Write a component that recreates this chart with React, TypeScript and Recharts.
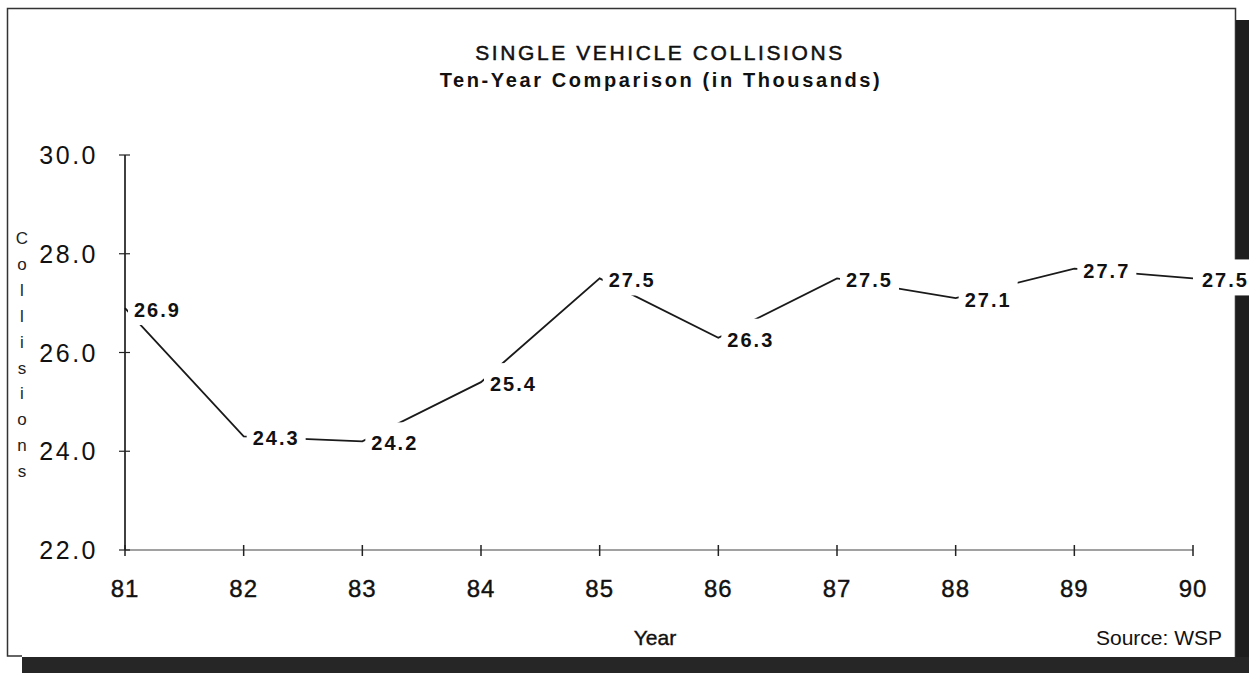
import { LineChart, Line, XAxis, YAxis, LabelList } from 'recharts';

// Single vehicle collisions, in thousands (WSP)
const years = [81, 82, 83, 84, 85, 86, 87, 88, 89, 90];
const collisions = [26.9, 24.3, 24.2, 25.4, 27.5, 26.3, 27.5, 27.1, 27.7, 27.5];
const yTicks = [22, 24, 26, 28, 30];
const yLabelLetters = ['C', 'o', 'l', 'l', 'i', 's', 'i', 'o', 'n', 's'];

const FONT = '"Liberation Sans", Arial, Helvetica, sans-serif';
const W = 1249;
const H = 673;

const chartData = years.map((year, i) => ({ year, value: collisions[i] }));

// y tick: crossing tick mark + label to the left
const YTick = (props: any) => {
  const { x, y, payload } = props;
  return (
    <g>
      <line x1={x - 6} x2={x + 5} y1={y} y2={y} stroke="#222" strokeWidth={1.2} />
      <text
        x={x - 27}
        y={y + 9}
        textAnchor="end"
        fontFamily={FONT}
        fontSize={25}
        letterSpacing={2.5}
        fill="#111"
      >
        {Number(payload.value).toFixed(1)}
      </text>
    </g>
  );
};

// x tick: short vertical mark through the axis + year below
const XTick = (props: any) => {
  const { x, y, payload } = props;
  return (
    <g>
      <line x1={x} x2={x} y1={y - 5} y2={y + 6} stroke="#222" strokeWidth={1.5} />
      <text
        x={x}
        y={y + 47}
        textAnchor="middle"
        fontFamily={FONT}
        fontSize={24}
        letterSpacing={1}
        fill="#111"
        stroke="#111"
        strokeWidth={0.4}
      >
        {payload.value}
      </text>
    </g>
  );
};

// value label on a white patch, which breaks the line around it
const ValueLabel = (props: any) => {
  const { x, y, value } = props;
  if (x == null || y == null) return null;
  return (
    <g>
      <rect x={x + 3} y={y - 19} width={59} height={36} fill="#fff" />
      <text
        x={x + 9}
        y={y + 9}
        fontFamily={FONT}
        fontSize={20}
        fontWeight="bold"
        letterSpacing={2}
        fill="#111"
      >
        {Number(value).toFixed(1)}
      </text>
    </g>
  );
};

export default function App() {
  return (
    <div style={{ position: 'absolute', left: 0, top: 0, width: W, height: H, background: '#fff' }}>
      <svg width={W} height={H} style={{ position: 'absolute', left: 0, top: 0 }}>
        <rect x={0} y={0} width={W} height={H} fill="#fff" />
        {/* frame */}
        <path d="M 22 656 L 7.5 656 L 7.5 8.5 L 1235.5 8.5 L 1235.5 657" fill="none" stroke="#333" strokeWidth={1.5} />
        {/* drop shadow */}
        <rect x={1236} y={20} width={13} height={653} fill="#1e1e1e" />
        <rect x={22} y={657} width={1227} height={16} fill="#262626" />

        <text x={660} y={60} textAnchor="middle" fontFamily={FONT} fontSize={21} letterSpacing={2.6} fill="#111" stroke="#111" strokeWidth={0.5}>
          SINGLE VEHICLE COLLISIONS
        </text>
        <text x={661} y={87} textAnchor="middle" fontFamily={FONT} fontSize={20} fontWeight="bold" letterSpacing={2.6} fill="#111">
          Ten-Year Comparison (in Thousands)
        </text>

        {yLabelLetters.map((ch, i) => (
          <text key={i} x={22} y={244 + i * 25.9} textAnchor="middle" fontFamily={FONT} fontSize={17} fill="#222">
            {ch}
          </text>
        ))}

        <text x={655} y={645} textAnchor="middle" fontFamily={FONT} fontSize={21} fill="#111" stroke="#111" strokeWidth={0.4}>
          Year
        </text>
        <text x={1222} y={645} textAnchor="end" fontFamily={FONT} fontSize={21} fill="#111">
          Source: WSP
        </text>
      </svg>

      <div style={{ position: 'absolute', left: 0, top: 0 }}>
        <LineChart width={W} height={H} data={chartData} margin={{ top: 155, right: 56, left: 0, bottom: 0 }}>
          <XAxis
            dataKey="year"
            type="number"
            domain={[81, 90]}
            ticks={years}
            height={123}
            tickSize={0}
            tickMargin={0}
            tickLine={false}
            axisLine={{ stroke: '#444', strokeWidth: 1.2 }}
            tick={<XTick />}
            interval={0}
          />
          <YAxis
            type="number"
            domain={[22, 30]}
            ticks={yTicks}
            width={125}
            tickSize={0}
            tickMargin={0}
            tickLine={false}
            axisLine={{ stroke: '#111', strokeWidth: 1.6 }}
            tick={<YTick />}
            interval={0}
          />
          <Line
            type="linear"
            dataKey="value"
            stroke="#1a1a1a"
            strokeWidth={1.8}
            dot={false}
            activeDot={false}
            isAnimationActive={false}
          >
            <LabelList dataKey="value" content={<ValueLabel />} />
          </Line>
        </LineChart>
      </div>
    </div>
  );
}
